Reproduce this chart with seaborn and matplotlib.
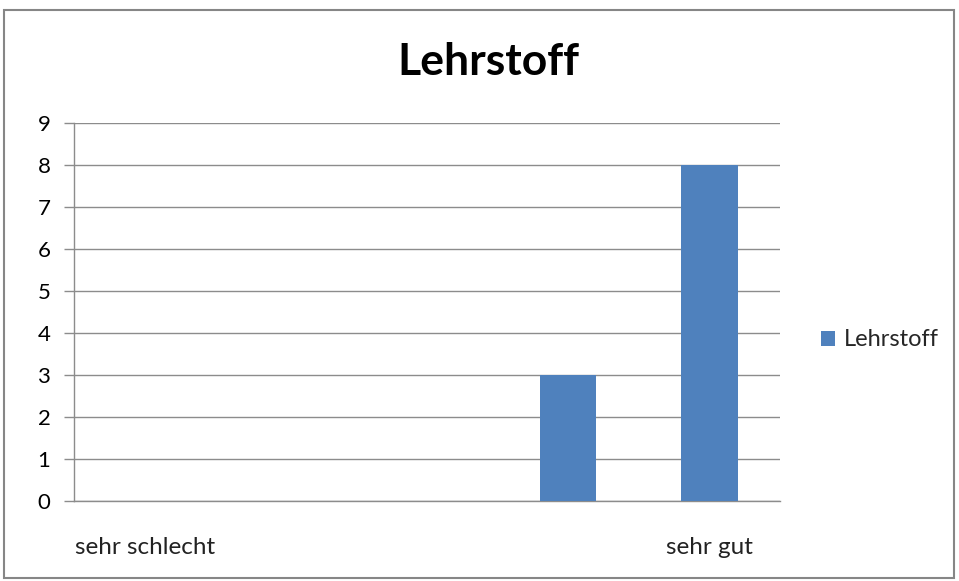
import matplotlib
matplotlib.use("Agg")
import matplotlib.pyplot as plt
import seaborn as sns
import pandas as pd
from matplotlib.patches import Rectangle, Patch

categories = ["1", "2", "3", "4", "5"]
tick_labels = ["sehr schlecht", "", "", "", "sehr gut"]
values = [0, 0, 0, 3, 8]
series_name = "Lehrstoff"

sns.set_theme(style="white")
plt.rcParams['font.family'] = ['Lato', 'DejaVu Sans']

df = pd.DataFrame({"cat": categories, "val": values})

fig = plt.figure(figsize=(9.59, 5.81), dpi=100)
ax = fig.add_axes([74/959, 1-501/581, (780-74)/959, (501-123)/581])

bar_color = "#4F81BD"
sns.barplot(data=df, x="cat", y="val", color=bar_color, width=0.4, ax=ax,
            saturation=1, zorder=3, linewidth=0, edgecolor="none")

ax.set_ylim(0, 9)
ax.set_xlim(-0.5, 4.5)
ax.set_yticks(range(0, 10))
ax.set_yticklabels([str(i) for i in range(10)], fontsize=16, color="#000000")
ax.yaxis.grid(True, color="#8C8C8C", linewidth=1, zorder=0)
ax.set_axisbelow(True)

ax.set_xticks([0, 1, 2, 3, 4])
ax.set_xticklabels(tick_labels, fontsize=17.5, color="#222222")
ax.set_xticks([-0.5, 0.5, 1.5, 2.5, 3.5, 4.5], minor=True)
ax.tick_params(axis="x", which="major", length=0, pad=26)
ax.tick_params(axis="x", which="minor", length=7, color="#8C8C8C", width=1, direction="out")
ax.tick_params(axis="y", length=7, color="#8C8C8C", width=1, direction="out", pad=10, left=True)
ax.set_xlabel("")
ax.set_ylabel("")

for s in ["top", "right"]:
    ax.spines[s].set_visible(False)
for s in ["left", "bottom"]:
    ax.spines[s].set_color("#8C8C8C")
    ax.spines[s].set_linewidth(1)

fig.text(488/959, 1-62/581, "Lehrstoff", ha="center", va="center",
         fontsize=32, fontweight="bold", color="#000000")

handle = Patch(facecolor=bar_color, edgecolor="none", label=series_name)
fig.legend(handles=[handle], loc="center left", bbox_to_anchor=(821/959, 1-340/581),
           frameon=False, fontsize=17, handlelength=0.6, handleheight=0.6,
           handletextpad=0.35, borderpad=0, borderaxespad=0)

fig.patches.append(Rectangle((4/959, 3/581), 950/959, 1-13/581, transform=fig.transFigure,
                             fill=False, edgecolor="#868686", linewidth=1.5))

fig.savefig("out.png", dpi=100)
